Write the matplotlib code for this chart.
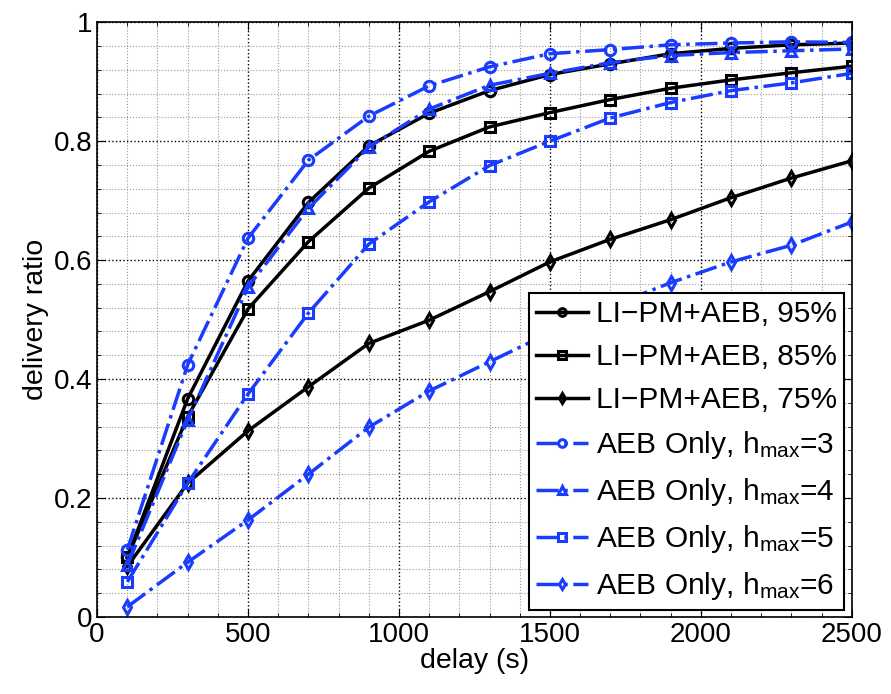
import matplotlib
matplotlib.use("Agg")
import matplotlib.pyplot as plt
from matplotlib.ticker import MultipleLocator

# delay values (s)
delay = [100, 300, 500, 700, 900, 1100, 1300, 1500, 1700, 1900, 2100, 2300, 2500]

# LI-PM+AEB with different thresholds
lipm_95 = [0.100, 0.367, 0.565, 0.697, 0.792, 0.847, 0.885, 0.912, 0.930, 0.947, 0.956, 0.962, 0.965]
lipm_85 = [0.100, 0.337, 0.518, 0.631, 0.721, 0.783, 0.824, 0.848, 0.870, 0.889, 0.903, 0.915, 0.926]
lipm_75 = [0.085, 0.225, 0.313, 0.387, 0.460, 0.499, 0.547, 0.597, 0.635, 0.668, 0.705, 0.738, 0.767]

# AEB only, various h_max
aeb_h3 = [0.113, 0.424, 0.637, 0.768, 0.842, 0.893, 0.925, 0.947, 0.954, 0.962, 0.965, 0.967, 0.966]
aeb_h4 = [0.087, 0.331, 0.555, 0.687, 0.790, 0.854, 0.894, 0.914, 0.932, 0.944, 0.949, 0.952, 0.955]
aeb_h5 = [0.059, 0.225, 0.375, 0.511, 0.627, 0.698, 0.759, 0.800, 0.839, 0.865, 0.885, 0.898, 0.914]
aeb_h6 = [0.017, 0.092, 0.163, 0.240, 0.319, 0.380, 0.429, 0.478, 0.522, 0.562, 0.597, 0.625, 0.664]

labels = [
    "LI\u2212PM+AEB, 95%",
    "LI\u2212PM+AEB, 85%",
    "LI\u2212PM+AEB, 75%",
    "AEB Only, h$_{\\mathrm{max}}$=3",
    "AEB Only, h$_{\\mathrm{max}}$=4",
    "AEB Only, h$_{\\mathrm{max}}$=5",
    "AEB Only, h$_{\\mathrm{max}}$=6",
]

plt.rcParams['font.family'] = ['Liberation Sans', 'DejaVu Sans']
plt.rcParams['mathtext.fontset'] = 'custom'
plt.rcParams['mathtext.rm'] = 'Liberation Sans'
plt.rcParams['mathtext.it'] = 'Liberation Sans'

blue = '#1a3cff'

fig = plt.figure(figsize=(8.91, 6.94), dpi=100)
ax = fig.add_axes([0.109, 0.111, 0.847, 0.857])

black_kw = dict(color='black', linestyle='-', linewidth=2.5, markersize=7.5,
                markerfacecolor='none', markeredgewidth=2.2)
blue_kw = dict(color=blue, linestyle='-.', linewidth=2.5, markersize=7.5,
               markerfacecolor='none', markeredgewidth=2.2)

ax.plot(delay, lipm_95, marker='o', label=labels[0], **black_kw)
ax.plot(delay, lipm_85, marker='s', label=labels[1], **black_kw)
ax.plot(delay, lipm_75, marker='d', label=labels[2], **black_kw)
ax.plot(delay, aeb_h3, marker='o', label=labels[3], **blue_kw)
ax.plot(delay, aeb_h4, marker='^', label=labels[4], **blue_kw)
ax.plot(delay, aeb_h5, marker='s', label=labels[5], **blue_kw)
ax.plot(delay, aeb_h6, marker='d', label=labels[6], **blue_kw)

ax.set_xlim(0, 2500)
ax.set_ylim(0, 1)
ax.xaxis.set_major_locator(MultipleLocator(500))
ax.xaxis.set_minor_locator(MultipleLocator(100))
ax.yaxis.set_major_locator(MultipleLocator(0.2))
ax.yaxis.set_minor_locator(MultipleLocator(0.04))
ax.set_yticks([0, 0.2, 0.4, 0.6, 0.8, 1])
ax.set_yticklabels(['0', '0.2', '0.4', '0.6', '0.8', '1'])

ax.grid(which='major', linestyle=':', color='black', linewidth=1.0)
ax.grid(which='minor', linestyle=':', color='#999999', linewidth=0.8)
ax.set_axisbelow(True)

ax.tick_params(which='both', direction='in', top=True, right=True)
ax.tick_params(which='major', length=6, labelsize=20)
ax.tick_params(which='minor', length=3)
for sp in ax.spines.values():
    sp.set_linewidth(1.2)

ax.set_xlabel('delay (s)', fontsize=20.5, labelpad=0)
ax.set_ylabel('delivery ratio', fontsize=20.5, labelpad=3)

leg = ax.legend(loc='lower right', fontsize=21.5, frameon=True, fancybox=False,
                edgecolor='black', framealpha=1, borderpad=0.25, labelspacing=0.5,
                handlelength=1.75, handletextpad=0.25, borderaxespad=0.25)
leg.get_frame().set_linewidth(1.5)
for h in leg.legend_handles:
    h.set_markersize(5.5)

fig.savefig('out.png', dpi=100)
